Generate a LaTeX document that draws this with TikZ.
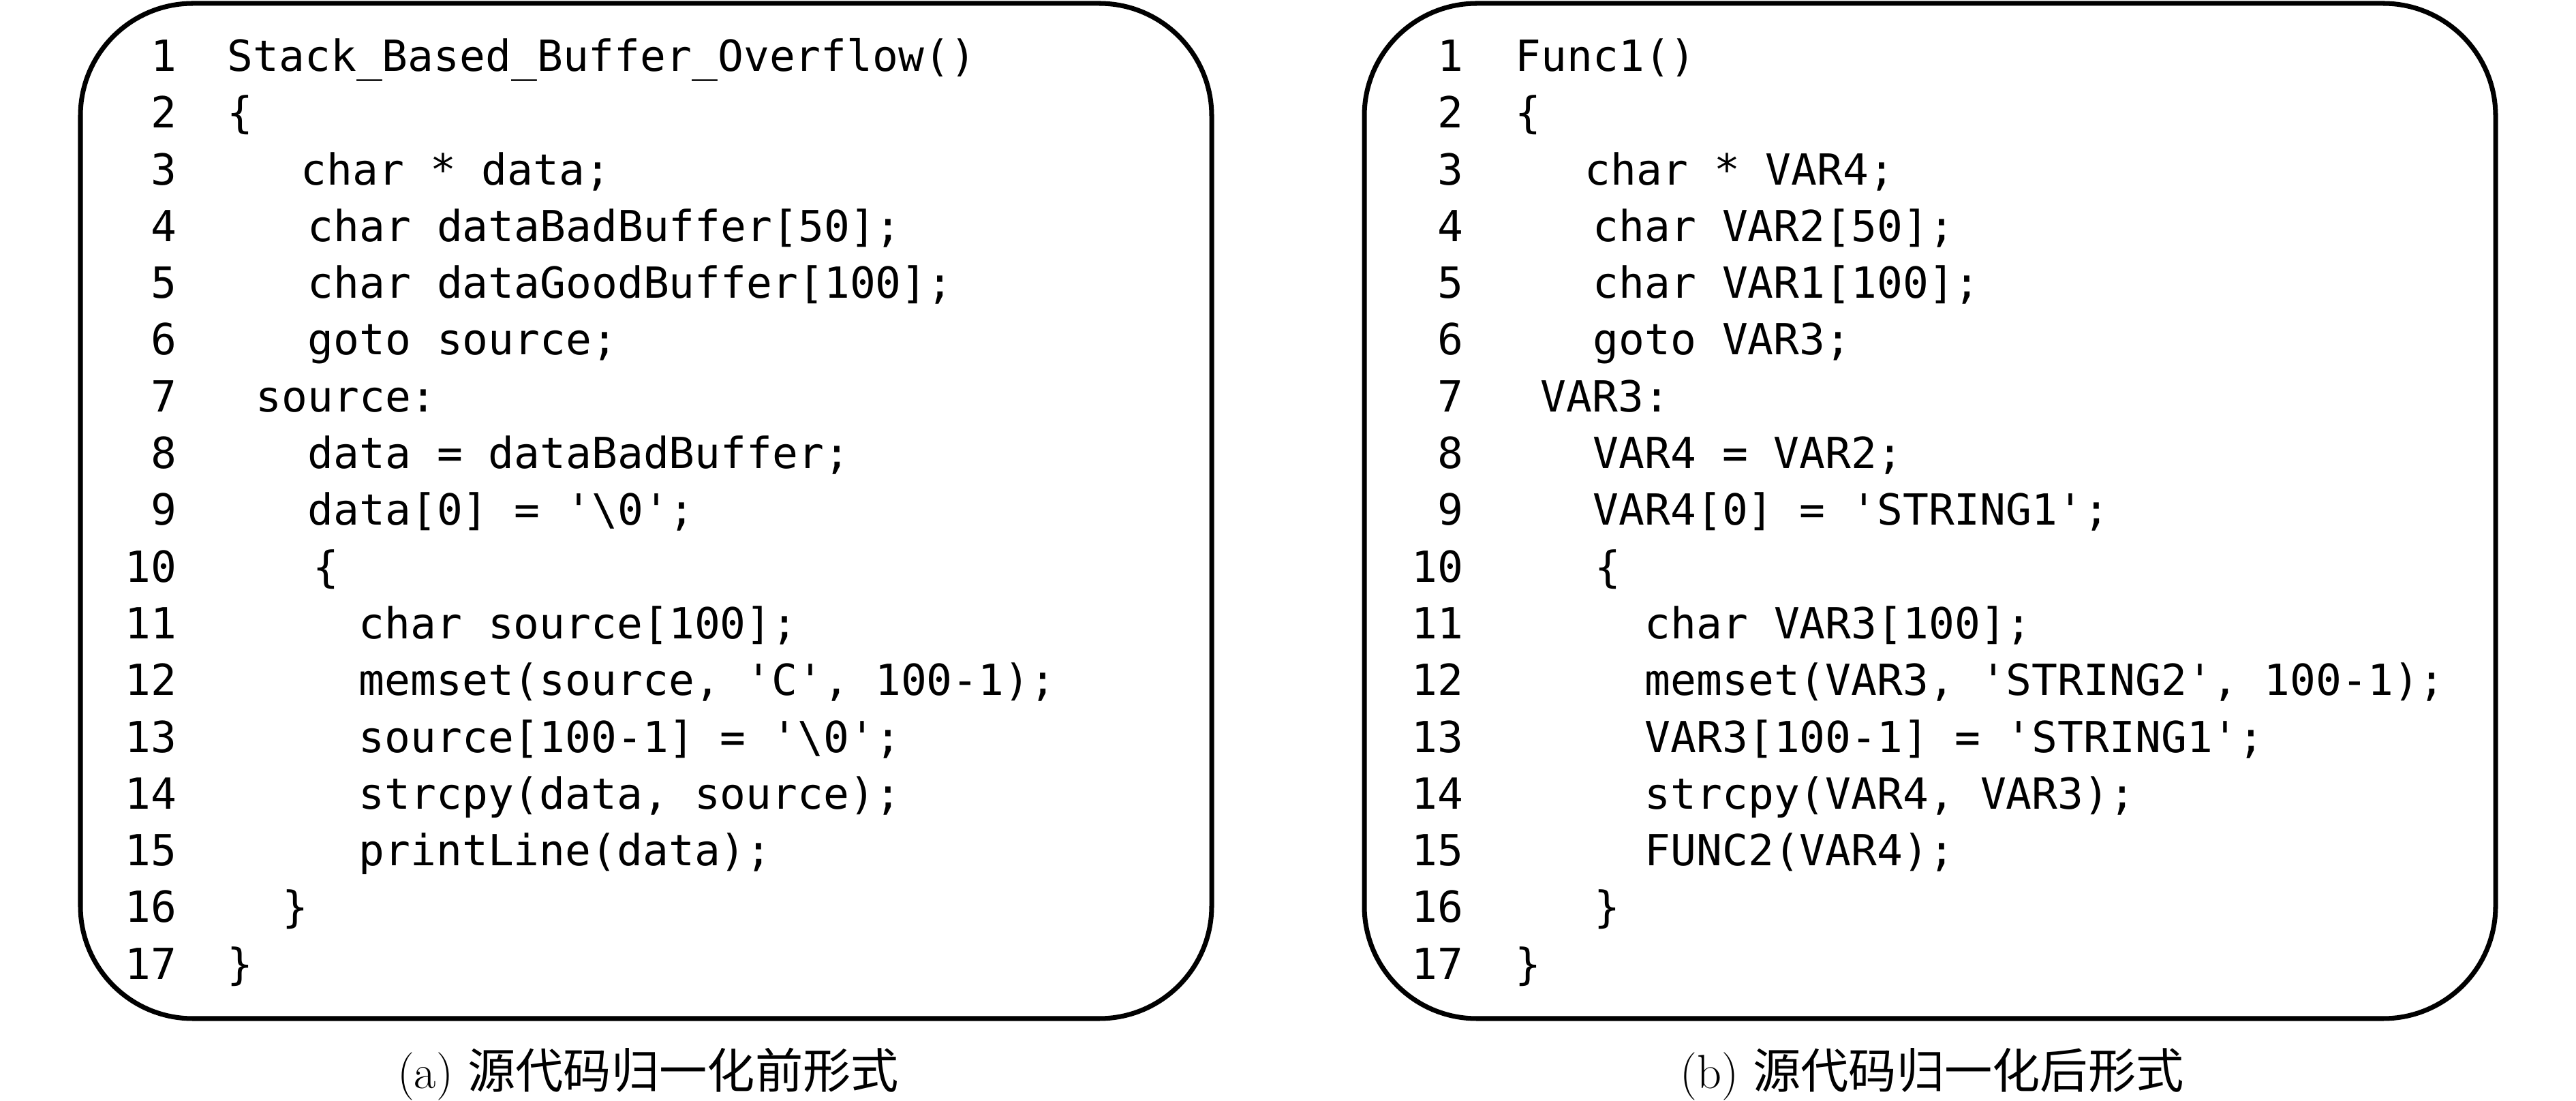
\documentclass[tikz,border=0pt]{standalone}
\usepackage{fontspec}
\newfontfamily\codefont{DejaVu Sans Mono}
\newfontfamily\cjk{Noto Sans CJK SC}
\newcommand{\squote}{\textquotesingle}
\tikzset{
  codebox/.style={draw=black, line width=2pt, rounded corners=1.65cm},
  codeline/.style={anchor=base west, inner sep=0pt, font=\codefont\fontsize{17.9}{20}\selectfont},
  lineno/.style={anchor=base east, inner sep=0pt, font=\codefont\fontsize{17.9}{20}\selectfont},
  subcap/.style={anchor=base, inner sep=0pt, font=\fontsize{20}{24}\selectfont}
}
\begin{document}
\begin{tikzpicture}
        \useasboundingbox (0,0) rectangle (37.80,16.16);

        % left: before normalisation
        \draw[codebox] ( 1.18, 1.21) rectangle (17.78,16.11);

        \node[lineno] (nA1)  at ( 2.60,15.11) {1};
        \node[lineno] (nA2)  at ( 2.60,14.28) {2};
        \node[lineno] (nA3)  at ( 2.60,13.44) {3};
        \node[lineno] (nA4)  at ( 2.60,12.61) {4};
        \node[lineno] (nA5)  at ( 2.60,11.78) {5};
        \node[lineno] (nA6)  at ( 2.60,10.95) {6};
        \node[lineno] (nA7)  at ( 2.60,10.11) {7};
        \node[lineno] (nA8)  at ( 2.60, 9.28) {8};
        \node[lineno] (nA9)  at ( 2.60, 8.45) {9};
        \node[lineno] (nA10) at ( 2.60, 7.61) {10};
        \node[lineno] (nA11) at ( 2.60, 6.78) {11};
        \node[lineno] (nA12) at ( 2.60, 5.95) {12};
        \node[lineno] (nA13) at ( 2.60, 5.11) {13};
        \node[lineno] (nA14) at ( 2.60, 4.28) {14};
        \node[lineno] (nA15) at ( 2.60, 3.45) {15};
        \node[lineno] (nA16) at ( 2.60, 2.62) {16};
        \node[lineno] (nA17) at ( 2.60, 1.78) {17};

        \node[codeline] (A1)  at ( 3.33,15.11) {Stack\_Based\_Buffer\_Overflow()};
        \node[codeline] (A2)  at ( 3.33,14.28) {\{};
        \node[codeline] (A3)  at ( 4.41,13.44) {char * data;};
        \node[codeline] (A4)  at ( 4.51,12.61) {char dataBadBuffer[50];};
        \node[codeline] (A5)  at ( 4.51,11.78) {char dataGoodBuffer[100];};
        \node[codeline] (A6)  at ( 4.51,10.95) {goto source;};
        \node[codeline] (A7)  at ( 3.75,10.11) {source:};
        \node[codeline] (A8)  at ( 4.51, 9.28) {data = dataBadBuffer;};
        \node[codeline] (A9)  at ( 4.51, 8.45) {data[0] = \squote\textbackslash 0\squote;};
        \node[codeline] (A10) at ( 4.59, 7.61) {\{};
        \node[codeline] (A11) at ( 5.26, 6.78) {char source[100];};
        \node[codeline] (A12) at ( 5.26, 5.95) {memset(source, \squote C\squote, 100-1);};
        \node[codeline] (A13) at ( 5.26, 5.11) {source[100-1] = \squote\textbackslash 0\squote;};
        \node[codeline] (A14) at ( 5.26, 4.28) {strcpy(data, source);};
        \node[codeline] (A15) at ( 5.26, 3.45) {printLine(data);};
        \node[codeline] (A16) at ( 4.14, 2.62) {\}};
        \node[codeline] (A17) at ( 3.33, 1.78) {\}};

        \node[subcap] (capA) at ( 9.51, 0.18) {(a) {\cjk 源代码归一化前形式}};

        % right: after normalisation
        \draw[codebox] (20.02, 1.21) rectangle (36.62,16.11);

        \node[lineno] (nB1)  at (21.48,15.11) {1};
        \node[lineno] (nB2)  at (21.48,14.28) {2};
        \node[lineno] (nB3)  at (21.48,13.44) {3};
        \node[lineno] (nB4)  at (21.48,12.61) {4};
        \node[lineno] (nB5)  at (21.48,11.78) {5};
        \node[lineno] (nB6)  at (21.48,10.95) {6};
        \node[lineno] (nB7)  at (21.48,10.11) {7};
        \node[lineno] (nB8)  at (21.48, 9.28) {8};
        \node[lineno] (nB9)  at (21.48, 8.45) {9};
        \node[lineno] (nB10) at (21.48, 7.61) {10};
        \node[lineno] (nB11) at (21.48, 6.78) {11};
        \node[lineno] (nB12) at (21.48, 5.95) {12};
        \node[lineno] (nB13) at (21.48, 5.11) {13};
        \node[lineno] (nB14) at (21.48, 4.28) {14};
        \node[lineno] (nB15) at (21.48, 3.45) {15};
        \node[lineno] (nB16) at (21.48, 2.62) {16};
        \node[lineno] (nB17) at (21.48, 1.78) {17};

        \node[codeline] (B1)  at (22.23,15.11) {Func1()};
        \node[codeline] (B2)  at (22.23,14.28) {\{};
        \node[codeline] (B3)  at (23.25,13.44) {char * VAR4;};
        \node[codeline] (B4)  at (23.37,12.61) {char VAR2[50];};
        \node[codeline] (B5)  at (23.37,11.78) {char VAR1[100];};
        \node[codeline] (B6)  at (23.37,10.95) {goto VAR3;};
        \node[codeline] (B7)  at (22.60,10.11) {VAR3:};
        \node[codeline] (B8)  at (23.37, 9.28) {VAR4 = VAR2;};
        \node[codeline] (B9)  at (23.37, 8.45) {VAR4[0] = \squote STRING1\squote;};
        \node[codeline] (B10) at (23.40, 7.61) {\{};
        \node[codeline] (B11) at (24.13, 6.78) {char VAR3[100];};
        \node[codeline] (B12) at (24.13, 5.95) {memset(VAR3, \squote STRING2\squote, 100-1);};
        \node[codeline] (B13) at (24.13, 5.11) {VAR3[100-1] = \squote STRING1\squote;};
        \node[codeline] (B14) at (24.13, 4.28) {strcpy(VAR4, VAR3);};
        \node[codeline] (B15) at (24.13, 3.45) {FUNC2(VAR4);};
        \node[codeline] (B16) at (23.39, 2.62) {\}};
        \node[codeline] (B17) at (22.23, 1.78) {\}};

        \node[subcap] (capB) at (28.35, 0.18) {(b) {\cjk 源代码归一化后形式}};
      \end{tikzpicture}
\end{document}
